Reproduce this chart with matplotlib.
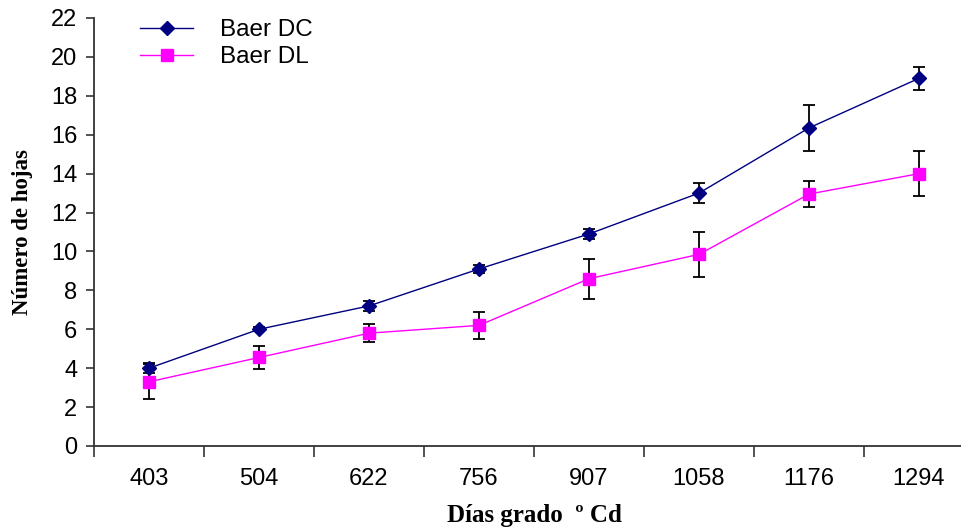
import numpy as np
import matplotlib.pyplot as plt

# Leaf count per thermal time for the two Baer sowing treatments
dias = ['403', '504', '622', '756', '907', '1058', '1176', '1294']

baer_dc = [4.0, 6.0, 7.2, 9.1, 10.9, 13.0, 16.35, 18.9]
baer_dc_err = [0.25, 0.1, 0.26, 0.2, 0.26, 0.5, 1.2, 0.6]

baer_dl = [3.3, 4.55, 5.8, 6.2, 8.6, 9.85, 12.95, 14.0]
baer_dl_err = [0.9, 0.6, 0.46, 0.7, 1.03, 1.17, 0.67, 1.16]

x = np.arange(len(dias))

fig = plt.figure(figsize=(9.62, 5.29), dpi=100)
ax = fig.add_axes([94/962, 83/529, 880/962, 428/529])

ax.errorbar(x, baer_dc, yerr=baer_dc_err, color='#000080', lw=1.0,
            marker='D', ms=7, mec='#000080', mfc='#000080',
            ecolor='black', elinewidth=1.3, capsize=4.5, capthick=1.3,
            label='Baer DC', zorder=3)
ax.errorbar(x, baer_dl, yerr=baer_dl_err, color='#ff00ff', lw=1.0,
            marker='s', ms=8.5, mec='#ff00ff', mfc='#ff00ff',
            ecolor='black', elinewidth=1.3, capsize=4.5, capthick=1.3,
            label='Baer DL', zorder=3)

ax.set_xlim(-0.5, 7.5)
ax.set_ylim(0, 22)
ax.set_yticks(np.arange(0, 23, 2))
ax.set_xticks(x)
ax.set_xticklabels(dias)
ax.set_xticks(np.arange(-0.5, 8, 1), minor=True)
ax.tick_params(axis='x', which='major', length=0, pad=16)
ax.tick_params(axis='x', which='minor', length=8, width=1.2, color='#333333')
ax.tick_params(axis='y', length=6, width=1.2, color='#333333', pad=6)
ax.tick_params(labelsize=17)
for lab in ax.get_xticklabels() + ax.get_yticklabels():
    lab.set_family('Liberation Sans')

for side in ['top', 'right']:
    ax.spines[side].set_visible(False)
for side in ['left', 'bottom']:
    ax.spines[side].set_linewidth(1.3)
    ax.spines[side].set_color('#333333')

ax.set_ylabel('Número de hojas', family='Liberation Serif', fontweight='bold',
              fontsize=16.5, labelpad=13)
ax.set_xlabel('Días grado  º Cd', family='Liberation Serif', fontweight='bold',
              fontsize=18, labelpad=10)

# errorbar handles without the bars in the legend
handles, labels = ax.get_legend_handles_labels()
handles = [h[0] for h in handles]
ax.legend(handles, labels, loc='upper left', bbox_to_anchor=(118/962, 1.005),
          bbox_transform=fig.transFigure, frameon=False,
          prop={'family': 'Liberation Sans', 'size': 17.5},
          handlelength=2.2, handletextpad=1.1, labelspacing=0.2)

plt.savefig('out.png', dpi=100)
